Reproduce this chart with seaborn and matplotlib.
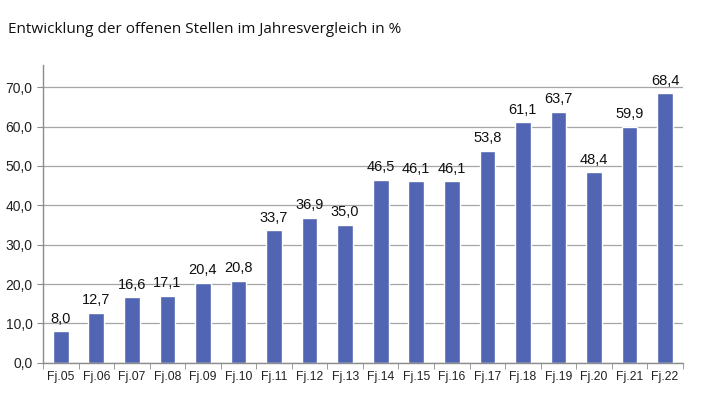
import numpy as np
import pandas as pd
import matplotlib
matplotlib.use("Agg")
import matplotlib.pyplot as plt
from matplotlib.ticker import FixedLocator, FuncFormatter
import seaborn as sns

years = ["Fj.05", "Fj.06", "Fj.07", "Fj.08", "Fj.09", "Fj.10", "Fj.11", "Fj.12", "Fj.13",
         "Fj.14", "Fj.15", "Fj.16", "Fj.17", "Fj.18", "Fj.19", "Fj.20", "Fj.21", "Fj.22"]
values = [8.0, 12.7, 16.6, 17.1, 20.4, 20.8, 33.7, 36.9, 35.0,
          46.5, 46.1, 46.1, 53.8, 61.1, 63.7, 48.4, 59.9, 68.4]

df = pd.DataFrame({"year": years, "value": values})

sns.set_style("white")
plt.rcParams['font.family'] = ['Liberation Sans', 'DejaVu Sans']

fig = plt.figure(figsize=(7.28, 3.97), dpi=100)
ax = fig.add_axes([0.059, 0.086, 0.879, 0.750])

sns.barplot(df, x="year", y="value", color="#5165b3", saturation=1, width=0.44, ax=ax)

fmt = lambda v: f"{v:.1f}".replace(".", ",")
for i, v in enumerate(values):
    ax.text(i, v + 1.4, fmt(v), ha="center", va="bottom", fontsize=10.5, color="#111111")

ax.set_ylim(0, 75.6)
ax.set_xlim(-0.5, len(years) - 0.5)
ax.set_yticks(np.arange(0, 71, 10))
ax.yaxis.set_major_formatter(FuncFormatter(lambda v, p: fmt(v)))
ax.grid(axis="y", color="#a6a6a6", linewidth=0.9)
ax.set_axisbelow(True)
ax.set_xlabel(None)
ax.set_ylabel(None)

for s in ["top", "right"]:
    ax.spines[s].set_visible(False)
for s in ["left", "bottom"]:
    ax.spines[s].set_color("#8c8c8c")
    ax.spines[s].set_linewidth(1.0)

ax.xaxis.set_minor_locator(FixedLocator(np.arange(-0.5, len(years), 1)))
ax.tick_params(axis="x", which="major", length=0, labelsize=8.8, pad=6, colors="#222222")
ax.tick_params(axis="x", which="minor", length=4, color="#8c8c8c", direction="out", bottom=True)
ax.tick_params(axis="y", which="major", length=4, color="#8c8c8c", direction="out", left=True,
               labelsize=10, labelcolor="#222222")

fig.text(0.011, 0.925, "Entwicklung der offenen Stellen im Jahresvergleich in %",
         fontsize=11, family=["Open Sans", "DejaVu Sans"], color="#111111", va="center")

fig.savefig("out.png", dpi=100)
